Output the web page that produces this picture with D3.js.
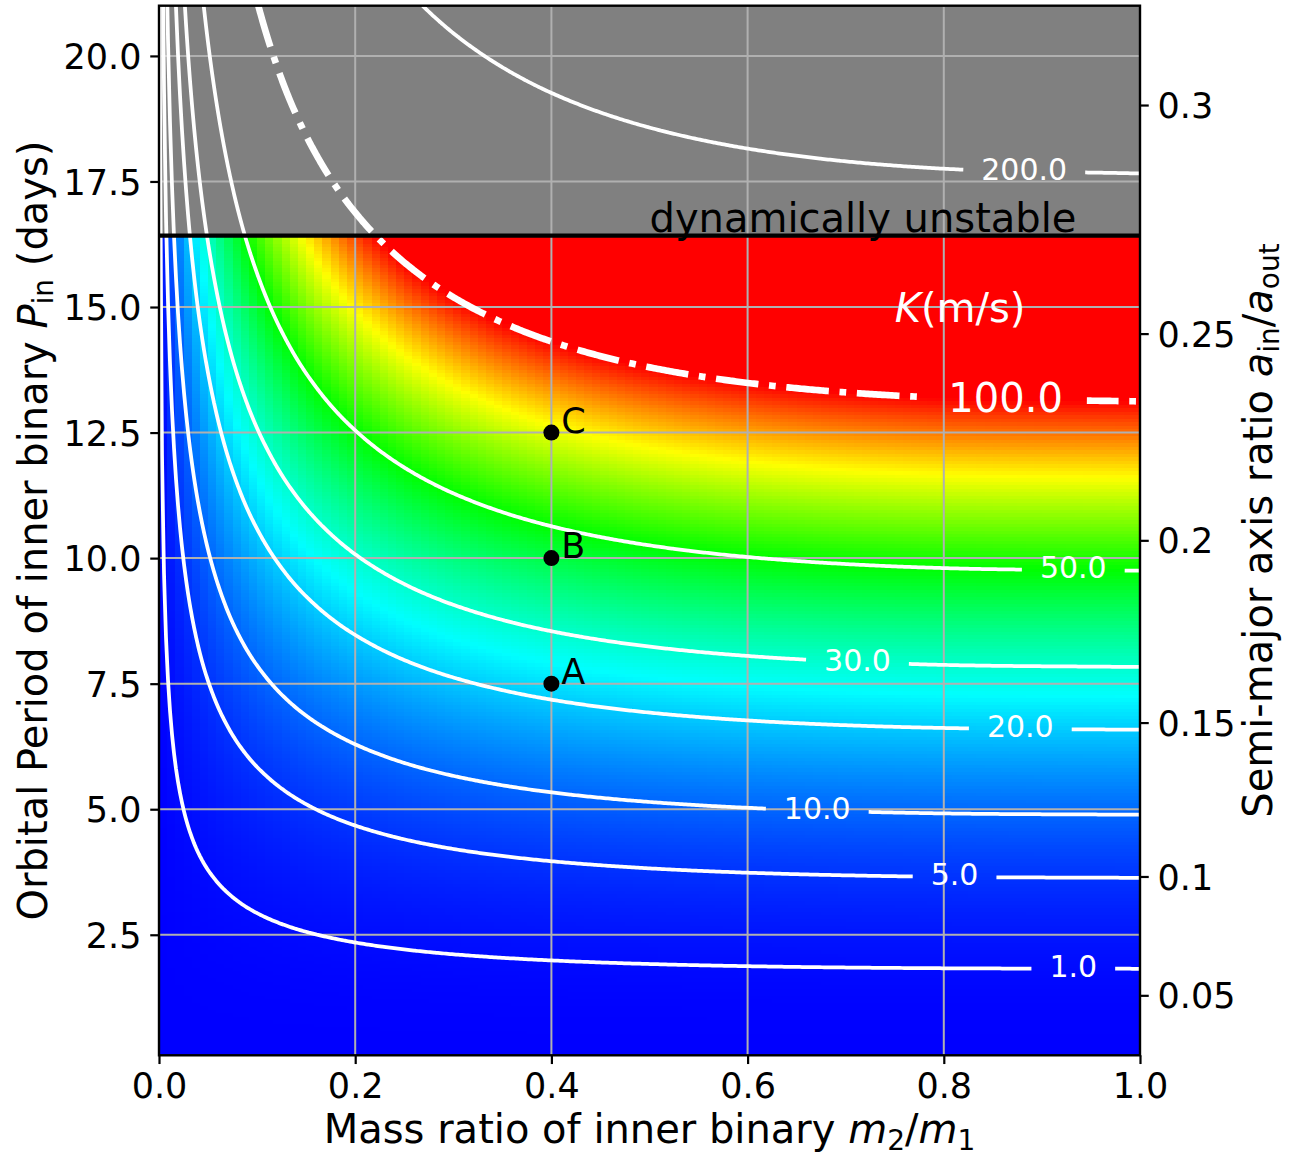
<!DOCTYPE html>
<html>
<head>
<meta charset="utf-8">
<script src="https://cdn.jsdelivr.net/npm/d3@7"></script>
<style>
  body { margin: 0; background: #fff; }
  svg { display: block; }
  text { font-family: 'DejaVu Sans', sans-serif; }
</style>
</head>
<body>
<svg id="chart" width="1300" height="1156"></svg>
<script>
// ---- data -------------------------------------------------------------
// RV semi-amplitude K (m/s) of the tertiary, sampled on mass ratio m2/m1 (columns)
// for four inner periods in days (rows).
const massRatios = [0.002, 0.005, 0.01, 0.02, 0.05, 0.1, 0.15, 0.2, 0.3, 0.4, 0.5, 0.6, 0.8, 1.0];
const innerPeriods = [1, 5, 10, 20];
const kAtP1  = [0.001962, 0.004876, 0.009656, 0.01894, 0.04467, 0.08141, 0.1117, 0.1368, 0.1749, 0.2010, 0.2189, 0.2309, 0.2432, 0.2463];
const kAtP5  = [0.08388, 0.2085, 0.4128, 0.8095, 1.910, 3.480, 4.776, 5.848, 7.475, 8.593, 9.357, 9.869, 10.40, 10.53];
const kAtP10 = [0.4227, 1.051, 2.080, 4.079, 9.624, 17.54, 24.07, 29.47, 37.67, 43.31, 47.16, 49.74, 52.40, 53.05];
const kAtP20 = [2.130, 5.294, 10.48, 20.56, 48.50, 88.39, 121.3, 148.5, 189.8, 218.3, 237.7, 250.7, 264.1, 267.4];

// contour levels and the mass ratio at which each level is labelled
const contourLevels = [1, 5, 10, 20, 30, 50, 100, 200];
const labelMassRatio = [0.932, 0.811, 0.671, 0.878, 0.712, 0.932, 0.863, 0.882];
const highlightLevel = 100;
const colorMaxK = 100;

// stability limit of the inner orbit (days)
const unstablePeriod = 16.42;

// example systems
const pointNames = ['A', 'B', 'C'];
const pointMassRatio = [0.4, 0.4, 0.4];
const pointPeriod = [7.5, 10, 12.5];

// axes
const massTicks = [0, 0.2, 0.4, 0.6, 0.8, 1.0];
const periodTicks = [2.5, 5, 7.5, 10, 12.5, 15, 17.5, 20];
const axisRatioTicks = [0.05, 0.1, 0.15, 0.2, 0.25, 0.3];
const axisRatioPerDay = 0.0421;   // a_in/a_out for a 1-day inner orbit (scales as P^(2/3))

// ---- layout & scales ----------------------------------------------------
const plot = { x0: 159, x1: 1140, y0: 5.7, y1: 1055.3 };
const x = d3.scaleLinear().domain([0, 1]).range([plot.x0, plot.x1]);
const y = d3.scaleLinear().domain([0.1, 21]).range([plot.y1, plot.y0]);
const toRatio = P => axisRatioPerDay * Math.pow(P, 2 / 3);
const yRatio = d3.scalePow().exponent(1.5)
  .domain([toRatio(0.1), toRatio(21)]).range([plot.y1, plot.y0]);

const hue = d3.scaleLinear().domain([0, colorMaxK]).range([240, 0]).clamp(true);
const kColor = k => d3.hsl(hue(k), 1, 0.5);

// K lookup: cubic Hermite along log(q), linear along log(P)
const logQ = massRatios.map(Math.log);
const logP = innerPeriods.map(Math.log);
const logK = [kAtP1, kAtP5, kAtP10, kAtP20].map(r => r.map(Math.log));
function segIndex(arr, v) {
  const i = d3.bisectRight(arr, v) - 1;
  return Math.max(0, Math.min(arr.length - 2, i));
}
function hermiteSlopes(xs, ys) {
  const n = xs.length;
  return xs.map((_, i) => {
    if (i === 0) return (ys[1] - ys[0]) / (xs[1] - xs[0]);
    if (i === n - 1) return (ys[n - 1] - ys[n - 2]) / (xs[n - 1] - xs[n - 2]);
    const h0 = xs[i] - xs[i - 1], h1 = xs[i + 1] - xs[i];
    const d0 = (ys[i] - ys[i - 1]) / h0, d1 = (ys[i + 1] - ys[i]) / h1;
    return (h1 * d0 + h0 * d1) / (h0 + h1);
  });
}
const rowSlopes = logK.map(row => hermiteSlopes(logQ, row));
function rowValue(r, u) {
  const xs = logQ, ys = logK[r], ms = rowSlopes[r], n = xs.length;
  if (u <= xs[0]) return ys[0] + ms[0] * (u - xs[0]);
  if (u >= xs[n - 1]) return ys[n - 1] + ms[n - 1] * (u - xs[n - 1]);
  const i = segIndex(xs, u), h = xs[i + 1] - xs[i], t = (u - xs[i]) / h;
  const t2 = t * t, t3 = t2 * t;
  return (2 * t3 - 3 * t2 + 1) * ys[i] + (t3 - 2 * t2 + t) * h * ms[i]
       + (-2 * t3 + 3 * t2) * ys[i + 1] + (t3 - t2) * h * ms[i + 1];
}
function kAt(q, P) {
  const u = Math.log(Math.max(q, 1e-4)), w = Math.log(Math.max(P, 0.01));
  const j = segIndex(logP, w);
  const tw = (w - logP[j]) / (logP[j + 1] - logP[j]);
  return Math.exp(rowValue(j, u) * (1 - tw) + rowValue(j + 1, u) * tw);
}

const svg = d3.select('#chart');
const defs = svg.append('defs');
defs.append('clipPath').attr('id', 'plotClip').append('rect')
  .attr('x', plot.x0).attr('y', plot.y0)
  .attr('width', plot.x1 - plot.x0).attr('height', plot.y1 - plot.y0);

// ---- colour raster (mesh of 120 x 300 cells) --------------------------------
const nq = 120, np = 300, pMin = 0.1, pMax = 21;
const ox = Math.floor(plot.x0), oy = Math.floor(plot.y0);
const cw = Math.ceil(plot.x1) - ox, ch = Math.ceil(plot.y1) - oy;
const canvas = document.createElement('canvas');
canvas.width = cw; canvas.height = ch;
const ctx = canvas.getContext('2d');
const img = ctx.createImageData(cw, ch);
const cellCache = new Map();
for (let j = 0; j < ch; j++) {
  const P = y.invert(oy + j + 0.5);
  const pj = Math.min(np - 1, Math.max(0, Math.floor((P - pMin) / ((pMax - pMin) / np))));
  const Pc = pMin + (pj + 0.5) * (pMax - pMin) / np;
  for (let i = 0; i < cw; i++) {
    const q = x.invert(ox + i + 0.5);
    const qi = Math.min(nq - 1, Math.max(0, Math.floor(q * nq)));
    const key = pj * nq + qi;
    let c = cellCache.get(key);
    if (!c) { c = d3.rgb(kColor(kAt((qi + 0.5) / nq, Pc))); cellCache.set(key, c); }
    const o = (j * cw + i) * 4;
    img.data[o] = c.r; img.data[o + 1] = c.g; img.data[o + 2] = c.b; img.data[o + 3] = 255;
  }
}
ctx.putImageData(img, 0, 0);
svg.append('image')
  .attr('x', ox).attr('y', oy).attr('width', cw).attr('height', ch)
  .attr('preserveAspectRatio', 'none')
  .attr('clip-path', 'url(#plotClip)')
  .attr('href', canvas.toDataURL());

// ---- unstable region -----------------------------------------------------
svg.append('rect')
  .attr('x', plot.x0).attr('y', plot.y0)
  .attr('width', plot.x1 - plot.x0).attr('height', y(unstablePeriod) - plot.y0)
  .attr('fill', '#808080');

// ---- grid ----------------------------------------------------------------
const grid = svg.append('g').attr('stroke', '#b0b0b0').attr('stroke-width', 2);
grid.selectAll('.gx').data(massTicks).join('line')
  .attr('x1', d => x(d)).attr('x2', d => x(d)).attr('y1', plot.y0).attr('y2', plot.y1);
grid.selectAll('.gy').data(periodTicks).join('line')
  .attr('y1', d => y(d)).attr('y2', d => y(d)).attr('x1', plot.x0).attr('x2', plot.x1);

// ---- contour lines -----------------------------------------------------------
const cs = 2, gpad = 12;
const gx0 = plot.x0 - gpad, gy0 = plot.y0 - gpad;
const nx = Math.ceil((plot.x1 - plot.x0 + 2 * gpad) / cs);
const ny = Math.ceil((plot.y1 - plot.y0 + 2 * gpad) / cs);
const field = new Float64Array(nx * ny);
for (let j = 0; j < ny; j++) {
  const P = y.invert(gy0 + (j + 0.5) * cs);
  for (let i = 0; i < nx; i++) {
    field[j * nx + i] = Math.log(kAt(x.invert(gx0 + (i + 0.5) * cs), P));
  }
}
const contourSets = d3.contours().size([nx, ny])
  .thresholds(contourLevels.map(Math.log))(field);

const onEdge = p => p[0] <= 0 || p[0] >= nx || p[1] <= 0 || p[1] >= ny;
function ringRuns(ring) {
  const pts = ring.slice(0, -1), n = pts.length;
  const b = pts.findIndex(onEdge);
  if (b < 0) return [ring];
  const runs = []; let cur = [];
  for (let k = 0; k < n; k++) {
    const p = pts[(b + k) % n];
    if (onEdge(p)) { if (cur.length > 1) runs.push(cur); cur = []; }
    else cur.push(p);
  }
  if (cur.length > 1) runs.push(cur);
  return runs;
}
function clipSeg(p0, p1) {
  let t0 = 0, t1 = 1;
  const dx = p1[0] - p0[0], dy = p1[1] - p0[1];
  const ps = [-dx, dx, -dy, dy];
  const qs = [p0[0] - plot.x0, plot.x1 - p0[0], p0[1] - plot.y0, plot.y1 - p0[1]];
  for (let k = 0; k < 4; k++) {
    if (ps[k] === 0) { if (qs[k] < 0) return null; }
    else {
      const t = qs[k] / ps[k];
      if (ps[k] < 0) { if (t > t1) return null; if (t > t0) t0 = t; }
      else { if (t < t0) return null; if (t < t1) t1 = t; }
    }
  }
  return [[p0[0] + t0 * dx, p0[1] + t0 * dy], [p0[0] + t1 * dx, p0[1] + t1 * dy], t1];
}
function clipRun(pts) {
  const out = []; let cur = null;
  for (let k = 0; k < pts.length - 1; k++) {
    const s = clipSeg(pts[k], pts[k + 1]);
    if (!s) { if (cur) { out.push(cur); cur = null; } continue; }
    if (!cur) cur = [s[0]];
    cur.push(s[1]);
    if (s[2] < 1) { out.push(cur); cur = null; }
  }
  if (cur) out.push(cur);
  return out;
}
const runLength = r => d3.sum(r.slice(1), (p, k) => Math.hypot(p[0] - r[k][0], p[1] - r[k][1]));
const lerpX = (p, q, xv) => [xv, p[1] + (xv - p[0]) / (q[0] - p[0]) * (q[1] - p[1])];
function yAtX(run, xv) {
  for (let k = 0; k < run.length - 1; k++) {
    const p = run[k], q = run[k + 1];
    if ((p[0] - xv) * (q[0] - xv) <= 0 && p[0] !== q[0]) return lerpX(p, q, xv)[1];
  }
  return null;
}
function splitRun(run, xa, xb) {
  const left = [], right = [];
  for (let k = 0; k < run.length; k++) {
    const p = run[k];
    if (p[0] <= xa) left.push(p);
    if (p[0] >= xb) right.push(p);
    if (k < run.length - 1) {
      const q = run[k + 1];
      if (p[0] < xa && q[0] > xa) left.push(lerpX(p, q, xa));
      if (p[0] < xb && q[0] > xb) right.push(lerpX(p, q, xb));
    }
  }
  return [left, right];
}

const fmt1 = d3.format('.1f');
const measure = svg.append('text').attr('visibility', 'hidden');
function textWidth(str, size) {
  measure.attr('font-size', size).text(str);
  return measure.node().getComputedTextLength();
}

const lineGen = d3.line();
const contourLayer = svg.append('g').attr('clip-path', 'url(#plotClip)')
  .attr('fill', 'none').attr('stroke', '#fff').attr('stroke-linejoin', 'round');
const labelLayer = svg.append('g').attr('fill', '#fff').attr('text-anchor', 'middle');

contourSets.forEach((set, li) => {
  const level = contourLevels[li];
  const big = level === highlightLevel;
  const fs = big ? 40 : 30;
  let runs = [];
  set.coordinates.forEach(poly => poly.forEach(ring => {
    ringRuns(ring).forEach(r => {
      const px = r.map(p => [gx0 + p[0] * cs, gy0 + p[1] * cs]);
      clipRun(px).forEach(c => { if (runLength(c) > 4) runs.push(c[0][0] > c[c.length - 1][0] ? c.reverse() : c); });
    });
  }));
  if (!runs.length) return;
  const main = runs.reduce((a, b) => (runLength(b) > runLength(a) ? b : a));
  const pieces = runs.filter(r => r !== main).map(r => [r, 0]);
  const cx = x(labelMassRatio[li]);
  const cy = yAtX(main, cx);
  if (cy !== null) {
    const label = fmt1(level);
    const half = (textWidth(label, fs) + 2 * 0.6 * fs) / 2;
    const [left, right] = splitRun(main, cx - half, cx + half);
    if (left.length > 1) pieces.push([left, 0]);
    if (right.length > 1) pieces.push([right, 11]);
    labelLayer.append('text')
      .attr('x', cx).attr('y', cy - 2.5 + 0.3645 * fs)
      .attr('font-size', fs).text(label);
  } else {
    pieces.push([main, 0]);
  }
  pieces.forEach(([pts, off]) => {
    const path = contourLayer.append('path').attr('d', lineGen(pts));
    if (big) {
      path.attr('stroke-width', 6.67).attr('stroke-dasharray', '42.7,10.7,6.7,10.7')
        .attr('stroke-dashoffset', off);
    } else {
      path.attr('stroke-width', 3.75);
    }
  });
});
labelLayer.raise();

// ---- stability boundary ------------------------------------------------------
svg.append('line')
  .attr('x1', plot.x0).attr('x2', plot.x1)
  .attr('y1', y(unstablePeriod)).attr('y2', y(unstablePeriod))
  .attr('stroke', '#000').attr('stroke-width', 4.2);
svg.append('text')
  .attr('x', x(0.5)).attr('y', y(16.5))
  .attr('font-size', 40).attr('fill', '#000')
  .text('dynamically unstable');

const kLabel = svg.append('text')
  .attr('x', x(0.75)).attr('y', y(14.7))
  .attr('font-size', 40).attr('fill', '#fff');
kLabel.append('tspan').attr('font-style', 'italic').text('K');
kLabel.append('tspan').text('(m/s)');

// ---- example systems -----------------------------------------------------
const pts = svg.append('g');
pts.selectAll('circle').data(pointNames).join('circle')
  .attr('cx', (d, i) => x(pointMassRatio[i])).attr('cy', (d, i) => y(pointPeriod[i]))
  .attr('r', 8).attr('fill', '#000');
pts.selectAll('text').data(pointNames).join('text')
  .attr('x', (d, i) => x(pointMassRatio[i] + 0.01)).attr('y', (d, i) => y(pointPeriod[i]))
  .attr('font-size', 35).attr('fill', '#000').text(d => d);

// ---- axes ----------------------------------------------------------------
function styleAxis(g) {
  g.select('.domain').remove();
  g.selectAll('.tick line').attr('stroke', '#000').attr('stroke-width', 2.2);
  g.selectAll('.tick text').attr('font-size', 35).attr('fill', '#000')
    .attr('font-family', "'DejaVu Sans', sans-serif");
}
svg.append('g').attr('transform', `translate(${plot.x0},0)`)
  .call(d3.axisLeft(y).tickValues(periodTicks).tickFormat(fmt1).tickSize(8.75).tickPadding(8.75))
  .call(styleAxis).call(g => g.selectAll('.tick text').attr('dy', '0.36em'));
svg.append('g').attr('transform', `translate(0,${plot.y1})`)
  .call(d3.axisBottom(x).tickValues(massTicks).tickFormat(fmt1).tickSize(8.75).tickPadding(8.75))
  .call(styleAxis);
svg.append('g').attr('transform', `translate(${plot.x1},0)`)
  .call(d3.axisRight(yRatio).tickValues(axisRatioTicks).tickFormat(d => String(d)).tickSize(8.75).tickPadding(8.75))
  .call(styleAxis).call(g => g.selectAll('.tick text').attr('dy', '0.36em'));

svg.append('rect')
  .attr('x', plot.x0).attr('y', plot.y0)
  .attr('width', plot.x1 - plot.x0).attr('height', plot.y1 - plot.y0)
  .attr('fill', 'none').attr('stroke', '#000').attr('stroke-width', 2.4);

// axis titles built from runs of [text, style] with math-style subscripts
const SUB = 6.5;
function addRuns(t, runs) {
  let shift = 0;
  runs.forEach(([str, kind]) => {
    const target = kind === 'sub' ? SUB : 0;
    const s = t.append('tspan').text(str).attr('dy', target - shift);
    shift = target;
    if (kind === 'it') s.attr('font-style', 'italic');
    if (kind === 'sub') s.attr('font-size', 28);
  });
}
const xt = svg.append('text').attr('x', (plot.x0 + plot.x1) / 2).attr('y', 1143)
  .attr('text-anchor', 'middle').attr('font-size', 40);
addRuns(xt, [['Mass ratio of inner binary ', 'rm'], ['m', 'it'], ['2', 'sub'], ['/', 'rm'], ['m', 'it'], ['1', 'sub']]);

const yt = svg.append('text')
  .attr('transform', `translate(46.5,${(plot.y0 + plot.y1) / 2}) rotate(-90)`)
  .attr('text-anchor', 'middle').attr('font-size', 40);
addRuns(yt, [['Orbital Period of inner binary ', 'rm'], ['P', 'it'], ['in', 'sub'], [' (days)', 'rm']]);

const rt = svg.append('text')
  .attr('transform', `translate(1272,${(plot.y0 + plot.y1) / 2}) rotate(-90)`)
  .attr('text-anchor', 'middle').attr('font-size', 40);
addRuns(rt, [['Semi-major axis ratio ', 'rm'], ['a', 'it'], ['in', 'sub'], ['/', 'rm'], ['a', 'it'], ['out', 'sub']]);

measure.remove();
</script>
</body>
</html>
